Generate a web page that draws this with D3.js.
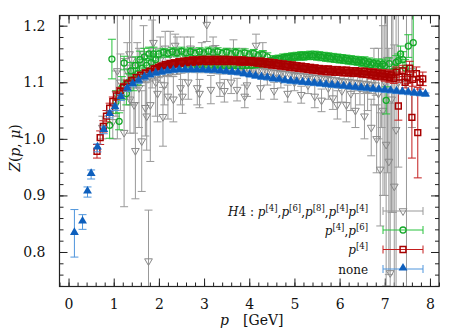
<!DOCTYPE html>
<html>
<head>
<meta charset="utf-8">
<script src="https://cdn.jsdelivr.net/npm/d3@7"></script>
<style>
  body { margin: 0; background: #fff; }
  svg text { fill: #111; }
</style>
</head>
<body>
<div id="chart"></div>
<script>
// [p, Z, error]
const h4Data = [
  [0.75,1.020,0.020],[0.98,1.030,0.030],[1.05,1.080,0.040],[1.08,1.120,0.120],[1.15,1.100,0.050],
  [1.23,1.011,0.131],[1.30,1.120,0.050],[1.35,1.150,0.090],[1.36,1.070,0.060],[1.40,1.140,0.080],
  [1.45,1.060,0.050],[1.48,0.979,0.085],[1.52,1.130,0.040],[1.56,1.090,0.070],[1.62,0.996,0.089],
  [1.66,1.150,0.050],[1.70,1.055,0.050],[1.73,1.040,0.060],[1.77,0.784,0.090],[1.81,1.060,0.100],
  [1.85,1.150,0.060],[1.88,1.170,0.050],[1.93,1.100,0.060],[1.97,1.080,0.050],[2.03,1.140,0.040],
  [2.09,1.039,0.052],[2.12,1.095,0.035],[2.14,1.160,0.030],[2.20,1.075,0.040],[2.25,1.150,0.040],
  [2.32,1.070,0.040],[2.36,1.165,0.020],[2.40,1.155,0.025],[2.48,1.090,0.030],[2.52,1.075,0.030],
  [2.56,1.150,0.030],[2.65,1.100,0.030],[2.70,1.160,0.020],[2.75,1.140,0.020],[2.85,1.090,0.030],
  [2.90,1.080,0.025],[2.95,1.150,0.020],[3.06,1.202,0.030],[3.15,1.087,0.025],[3.20,1.160,0.020],
  [3.25,1.145,0.020],[3.35,1.095,0.020],[3.45,1.085,0.020],[3.50,1.140,0.020],[3.60,1.100,0.020],
  [3.65,1.155,0.020],[3.73,1.087,0.020],[3.85,1.140,0.020],[3.90,1.075,0.020],[3.95,1.095,0.020],
  [4.05,1.135,0.015],[4.15,1.165,0.020],[4.25,1.090,0.020],[4.30,1.150,0.020],[4.40,1.110,0.015],
  [4.55,1.085,0.015],[4.70,1.105,0.015],[4.85,1.080,0.015],[5.00,1.100,0.015],[5.15,1.078,0.015],
  [5.30,1.095,0.015],[5.45,1.075,0.020],[5.60,1.068,0.020],[5.75,1.090,0.020],[5.85,1.072,0.020],
  [5.95,1.060,0.025],[6.05,1.085,0.020],[6.15,1.060,0.030],[6.25,1.080,0.030],[6.35,1.050,0.030],
  [6.45,1.090,0.030],[6.55,1.040,0.040],[6.62,1.090,0.040],[6.70,1.020,0.050],[6.76,1.110,0.050],
  [6.82,1.000,0.060],[6.86,1.080,0.080],[6.90,0.946,0.100],[6.93,1.120,0.100],[6.96,1.050,0.150],
  [7.00,1.100,0.200],[7.03,0.990,0.250],[7.06,1.140,0.200],[7.09,0.960,0.200],[7.12,0.763,0.300],
  [7.15,1.070,0.200],[7.18,1.120,0.250],[7.21,0.916,0.250],[7.25,1.016,0.300],[7.30,1.100,0.150],
  [7.48,1.100,0.400],[7.60,1.120,0.100],
  [1.50,1.100,0.010],[1.60,1.104,0.010],[1.70,1.108,0.009],[1.80,1.111,0.009],[1.90,1.114,0.008],
  [2.00,1.116,0.008],[2.10,1.118,0.008],[2.20,1.120,0.008],[2.30,1.121,0.008],[2.40,1.122,0.008],
  [2.50,1.124,0.008],[2.60,1.125,0.008],[2.70,1.126,0.008],[2.80,1.126,0.009],[2.90,1.126,0.009],
  [3.00,1.126,0.009],[3.10,1.126,0.009],[3.20,1.126,0.010],[3.30,1.125,0.010],[3.40,1.125,0.010],
  [3.50,1.125,0.010],[3.60,1.124,0.010],[3.70,1.124,0.010],[3.80,1.123,0.010],[3.90,1.123,0.011],
  [4.00,1.122,0.011],[4.10,1.121,0.011],[4.20,1.121,0.011],[4.30,1.120,0.011],[4.40,1.119,0.011],
  [4.50,1.118,0.011],[4.60,1.117,0.011],[4.70,1.116,0.011],[4.80,1.115,0.011],[4.90,1.114,0.011],
  [5.00,1.113,0.011],[5.10,1.112,0.011],[5.20,1.111,0.012],[5.30,1.110,0.012],[5.40,1.109,0.012],
  [5.50,1.108,0.012],[5.60,1.107,0.012],[5.70,1.106,0.012],[5.80,1.105,0.012],[5.90,1.104,0.012],
  [6.00,1.103,0.013],[6.10,1.102,0.013],[6.20,1.101,0.013],[6.30,1.100,0.013],[6.40,1.099,0.014],
  [6.50,1.098,0.014],[6.60,1.097,0.015],[6.70,1.096,0.016],[6.80,1.095,0.018]
];

const p4p6Data = [
  [0.91,1.024,0.023],[0.96,1.141,0.035],[1.05,1.065,0.020],[1.12,1.031,0.015],[1.18,1.090,0.020],
  [1.23,1.134,0.012],[1.28,1.080,0.020],[1.33,1.100,0.015],[1.38,1.120,0.015],[1.43,1.105,0.020],
  [1.48,1.130,0.015],[1.53,1.115,0.020],[1.58,1.140,0.015],[1.63,1.125,0.015],[1.68,1.145,0.015],
  [1.73,1.130,0.012],[1.78,1.150,0.012],[1.83,1.135,0.012],[1.88,1.150,0.012],[1.93,1.140,0.010],
  [2.00,1.150,0.007],[2.10,1.153,0.007],[2.20,1.151,0.007],[2.30,1.154,0.007],[2.40,1.152,0.007],
  [2.50,1.155,0.007],[2.60,1.152,0.007],[2.70,1.154,0.007],[2.80,1.151,0.007],[2.90,1.154,0.007],
  [3.00,1.152,0.007],[3.10,1.155,0.007],[3.20,1.152,0.007],[3.30,1.154,0.007],[3.40,1.151,0.007],
  [3.50,1.153,0.007],[3.60,1.150,0.007],[3.70,1.153,0.007],[3.80,1.150,0.007],[3.90,1.152,0.007],
  [4.00,1.149,0.007],[4.10,1.151,0.007],[4.20,1.147,0.007],[4.30,1.149,0.007],[4.40,1.145,0.007],
  [2.55,1.127,0.005],[2.65,1.128,0.005],[2.75,1.129,0.005],[2.85,1.129,0.005],[2.95,1.130,0.005],
  [3.05,1.130,0.005],[3.15,1.130,0.005],[3.25,1.130,0.005],[3.35,1.130,0.005],[3.45,1.130,0.005],
  [3.55,1.130,0.005],[3.65,1.130,0.005],[3.75,1.129,0.005],[3.85,1.129,0.005],[3.95,1.130,0.005],
  [4.05,1.130,0.005],[4.15,1.131,0.005],[4.25,1.132,0.005],[4.35,1.134,0.005],[4.45,1.136,0.005],
  [4.50,1.138,0.006],[4.55,1.141,0.006],[4.60,1.139,0.006],[4.65,1.142,0.006],[4.70,1.141,0.006],
  [4.75,1.144,0.006],[4.80,1.142,0.006],[4.85,1.145,0.006],[4.90,1.143,0.006],[4.95,1.146,0.006],
  [5.00,1.144,0.006],[5.05,1.147,0.006],[5.10,1.145,0.006],[5.15,1.148,0.006],[5.20,1.145,0.006],
  [5.25,1.148,0.006],[5.30,1.146,0.006],[5.35,1.149,0.006],[5.40,1.146,0.006],[5.45,1.149,0.006],
  [5.50,1.145,0.006],[5.55,1.148,0.006],[5.60,1.144,0.006],[5.65,1.147,0.006],[5.70,1.143,0.006],
  [5.75,1.146,0.006],[5.80,1.142,0.006],[5.85,1.145,0.006],[5.90,1.141,0.006],[5.95,1.144,0.006],
  [6.00,1.140,0.006],[6.05,1.143,0.006],[6.10,1.139,0.006],[6.15,1.142,0.006],[6.20,1.138,0.006],
  [6.25,1.141,0.006],[6.30,1.137,0.006],[6.35,1.140,0.006],[6.40,1.136,0.006],[6.45,1.139,0.006],
  [6.50,1.135,0.007],[6.55,1.138,0.007],[6.60,1.133,0.007],[6.65,1.136,0.007],[6.70,1.131,0.007],
  [6.75,1.134,0.007],[6.80,1.129,0.008],[6.85,1.133,0.008],[6.90,1.128,0.008],[6.95,1.132,0.009],
  [7.00,1.129,0.010],[7.03,1.068,0.024],[7.10,1.133,0.010],[7.20,1.120,0.012],[7.25,1.135,0.012],
  [7.30,1.138,0.012],[7.35,1.150,0.014],[7.40,1.140,0.014],[7.45,1.125,0.015],[7.52,1.164,0.020],
  [7.63,1.170,0.060]
];

const p4Data = [
  [0.63,0.978,0.012],[0.70,1.002,0.012],[0.77,1.022,0.010],[0.84,1.040,0.010],[0.91,1.054,0.009],
  [0.98,1.066,0.008],[1.06,1.076,0.008],[1.14,1.084,0.007],[1.22,1.091,0.007],[1.30,1.097,0.007],
  [1.40,1.103,0.006],[1.50,1.108,0.006],[1.60,1.112,0.006],[1.70,1.116,0.006],[1.80,1.119,0.006],
  [1.90,1.123,0.006],[1.95,1.124,0.006],
  [2.00,1.126,0.006],[2.05,1.128,0.006],[2.10,1.128,0.006],[2.15,1.131,0.006],[2.20,1.130,0.006],
  [2.25,1.133,0.006],[2.30,1.132,0.006],[2.35,1.134,0.006],[2.40,1.133,0.006],[2.45,1.136,0.006],
  [2.50,1.134,0.006],[2.55,1.137,0.006],[2.60,1.135,0.006],[2.65,1.138,0.006],[2.70,1.136,0.006],
  [2.75,1.139,0.006],[2.80,1.136,0.006],[2.85,1.139,0.006],[2.90,1.137,0.006],[2.95,1.140,0.006],
  [3.00,1.137,0.006],[3.05,1.140,0.006],[3.10,1.137,0.006],[3.15,1.140,0.006],[3.20,1.137,0.006],
  [3.25,1.140,0.006],[3.30,1.137,0.006],[3.35,1.140,0.006],[3.40,1.137,0.006],[3.45,1.140,0.006],
  [3.50,1.137,0.006],[3.55,1.140,0.006],[3.60,1.137,0.006],[3.65,1.139,0.006],[3.70,1.137,0.006],
  [3.75,1.139,0.006],[3.80,1.136,0.006],[3.85,1.139,0.006],[3.90,1.136,0.006],[3.95,1.138,0.006],
  [4.00,1.136,0.006],[4.05,1.138,0.006],[4.10,1.135,0.006],[4.15,1.137,0.006],[4.20,1.134,0.006],
  [4.25,1.137,0.006],[4.30,1.133,0.006],[4.35,1.136,0.006],[4.40,1.132,0.006],[4.45,1.135,0.006],
  [4.50,1.131,0.006],[4.55,1.134,0.006],[4.60,1.130,0.006],[4.65,1.133,0.006],[4.70,1.129,0.006],
  [4.75,1.132,0.006],[4.80,1.128,0.006],[4.85,1.131,0.006],[4.90,1.127,0.006],[4.95,1.130,0.006],
  [5.00,1.126,0.006],[5.05,1.129,0.006],[5.10,1.125,0.006],[5.15,1.128,0.006],[5.20,1.124,0.006],
  [5.25,1.127,0.006],[5.30,1.123,0.006],[5.35,1.126,0.006],[5.40,1.122,0.006],[5.45,1.125,0.006],
  [5.50,1.121,0.006],[5.55,1.124,0.006],[5.60,1.120,0.006],[5.65,1.123,0.006],[5.70,1.119,0.006],
  [5.75,1.123,0.006],[5.80,1.119,0.006],[5.85,1.122,0.006],[5.90,1.118,0.006],[5.95,1.122,0.006],
  [6.00,1.118,0.006],[6.05,1.121,0.006],[6.10,1.117,0.006],[6.15,1.121,0.006],[6.20,1.117,0.006],
  [6.25,1.120,0.006],[6.30,1.116,0.006],[6.35,1.120,0.006],[6.40,1.116,0.006],[6.45,1.119,0.006],
  [6.50,1.115,0.006],[6.55,1.119,0.006],[6.60,1.114,0.006],[6.65,1.118,0.006],[6.70,1.113,0.007],
  [6.75,1.117,0.007],[6.80,1.112,0.007],[6.85,1.116,0.007],[6.90,1.111,0.007],[6.95,1.115,0.007],
  [7.00,1.110,0.008],[7.05,1.114,0.008],[7.10,1.108,0.008],[7.15,1.113,0.008],[7.20,1.107,0.009],
  [7.25,1.118,0.009],[7.30,1.058,0.025],[7.32,1.109,0.009],[7.40,1.120,0.010],[7.45,1.100,0.010],
  [7.50,1.108,0.010],[7.55,1.125,0.012],[7.60,1.038,0.072],[7.62,1.105,0.012],[7.70,1.115,0.012],
  [7.73,1.011,0.080],[7.78,1.100,0.012],[7.84,1.106,0.012]
];

const noneData = [
  [0.13,0.833,0.042],[0.31,0.853,0.013],[0.42,0.906,0.009],[0.50,0.937,0.008],[0.64,0.984,0.007],
  [0.78,1.015,0.006],[0.91,1.043,0.006],[1.03,1.055,0.005],[1.16,1.073,0.005],[1.30,1.088,0.004],
  [1.42,1.096,0.004],[1.55,1.102,0.004],[1.68,1.108,0.004],[1.80,1.112,0.003],[1.93,1.115,0.003],
  [2.06,1.117,0.003],[2.19,1.119,0.003],[2.32,1.120,0.003],[2.45,1.121,0.003],[2.58,1.121,0.003],
  [2.71,1.121,0.003],[2.84,1.121,0.003],[2.97,1.121,0.003],[3.10,1.120,0.003],[3.23,1.120,0.003],
  [3.36,1.119,0.003],[3.49,1.118,0.003],[3.62,1.117,0.003],[3.75,1.116,0.003],[3.88,1.114,0.003],
  [4.01,1.112,0.003],[4.14,1.110,0.003],[4.27,1.108,0.003],[4.40,1.107,0.003],[4.53,1.105,0.003],
  [4.66,1.104,0.003],[4.79,1.102,0.003],[4.92,1.101,0.003],[5.05,1.100,0.003],[5.18,1.099,0.003],
  [5.31,1.098,0.003],[5.44,1.097,0.003],[5.57,1.096,0.003],[5.70,1.095,0.003],[5.83,1.094,0.003],
  [5.96,1.093,0.003],[6.09,1.092,0.003],[6.22,1.091,0.003],[6.35,1.090,0.003],[6.48,1.089,0.003],
  [6.61,1.088,0.003],[6.74,1.087,0.003],[6.87,1.086,0.003],[7.00,1.085,0.003],[7.13,1.084,0.003],
  [7.26,1.083,0.003],[7.39,1.082,0.003],[7.52,1.081,0.003],[7.65,1.080,0.003],[7.78,1.079,0.003],
  [7.90,1.078,0.003]
];

const xTicks = [0, 1, 2, 3, 4, 5, 6, 7, 8];
const yTicks = [0.8, 0.9, 1.0, 1.1, 1.2];

const FONT = "DejaVu Serif";
var W = 463, H = 333;
var margin = { top: 15.5, right: 24, bottom: 46.5, left: 59.5 },
    width  = W - margin.left - margin.right,
    height = H - margin.top  - margin.bottom;

var svg = d3.select("#chart").append("svg")
            .attr("width", W).attr("height", H)
            .attr("font-family", FONT);
var g = svg.append("g").attr("transform", `translate(${margin.left},${margin.top})`);

var x = d3.scaleLinear().domain([-0.2, 8.2]).range([0, width]);
var y = d3.scaleLinear().domain([0.739, 1.218]).range([height, 0]);

svg.append("defs").append("clipPath").attr("id", "clip")
   .append("rect").attr("width", width).attr("height", height);

// ticks, inward on all four sides
var xMinor = d3.range(-0.2, 8.21, 0.2).map(v => +v.toFixed(2));
var yMinor = d3.range(0.74, 1.2185, 0.02).map(v => +v.toFixed(2));

function axisG(axis, tr) {
  var a = g.append("g").attr("transform", tr).call(axis);
  a.attr("font-family", FONT);
  a.select(".domain").remove();
  a.selectAll("line").attr("stroke", "#222");
  return a;
}
axisG(d3.axisBottom(x).tickValues(xMinor).tickSize(-4).tickFormat(""), `translate(0,${height})`);
axisG(d3.axisTop(x).tickValues(xMinor).tickSize(-4).tickFormat(""), "translate(0,0)");
axisG(d3.axisLeft(y).tickValues(yMinor).tickSize(-4).tickFormat(""), "translate(0,0)");
axisG(d3.axisRight(y).tickValues(yMinor).tickSize(-4).tickFormat(""), `translate(${width},0)`);
axisG(d3.axisTop(x).tickValues(xTicks).tickSize(-8).tickFormat(""), "translate(0,0)");
axisG(d3.axisRight(y).tickValues(yTicks).tickSize(-8).tickFormat(""), `translate(${width},0)`);

var xAx = axisG(d3.axisBottom(x).tickValues(xTicks).tickSize(-8).tickPadding(13).tickFormat(d3.format("d")),
                `translate(0,${height})`);
xAx.selectAll("text").attr("font-size", 14).attr("fill", "#111").attr("font-family", FONT);
var yAx = axisG(d3.axisLeft(y).tickValues(yTicks).tickSize(-8).tickPadding(14).tickFormat(d3.format(".1f")),
                "translate(0,0)");
yAx.selectAll("text").attr("font-size", 14).attr("fill", "#111").attr("font-family", FONT);

// series
var plot = g.append("g").attr("clip-path", "url(#clip)");

function drawSeries(data, barColor, cap, marker) {
  var s = plot.append("g");
  var bars = s.selectAll(".eb").data(data).enter().append("g")
              .attr("stroke", barColor).attr("stroke-width", 1).attr("fill", "none");
  bars.append("line")
      .attr("x1", d => x(d[0])).attr("x2", d => x(d[0]))
      .attr("y1", d => y(d[1] - d[2])).attr("y2", d => y(d[1] + d[2]));
  [-1, 1].forEach(sg => {
    bars.append("line")
        .attr("x1", d => x(d[0]) - cap / 2).attr("x2", d => x(d[0]) + cap / 2)
        .attr("y1", d => y(d[1] + sg * d[2])).attr("y2", d => y(d[1] + sg * d[2]));
  });
  var m = s.selectAll(".mk").data(data).enter().append("g")
           .attr("transform", d => `translate(${x(d[0])},${y(d[1])})`);
  marker(m);
}

var triDown = d3.symbol(d3.symbolTriangle, 26)();
var triUp = d3.symbol(d3.symbolTriangle, 34)();
var square = d3.symbol(d3.symbolSquare, 34)();

function grayMark(sel) {
  sel.append("path").attr("d", triDown).attr("transform", "rotate(180)")
     .attr("fill", "none").attr("stroke", "#888").attr("stroke-width", 1);
}
function greenMark(sel) {
  sel.append("circle").attr("r", 3).attr("fill", "none").attr("stroke", "#14a828").attr("stroke-width", 1.3);
}
function redMark(sel) {
  sel.append("path").attr("d", square).attr("fill", "none").attr("stroke", "#a80000").attr("stroke-width", 1.5);
}
function blueMark(sel) {
  sel.append("path").attr("d", triUp).attr("transform", "translate(0,-1)").attr("fill", "#0d5fbd");
}

drawSeries(h4Data, "#999", 8, grayMark);
drawSeries(p4p6Data, "#28c23c", 8, greenMark);
drawSeries(p4Data, "#c41e1e", 8, redMark);
drawSeries(noneData, "#4f95dc", 8, blueMark);

// frame
g.append("rect").attr("width", width).attr("height", height)
 .attr("fill", "none").attr("stroke", "#222").attr("stroke-width", 1.2);

// legend
var legend = [
  { key: "h4",  bar: "#999", mark: grayMark },
  { key: "p46", bar: "#28c23c", mark: greenMark },
  { key: "p4",  bar: "#c41e1e", mark: redMark },
  { key: "none", bar: "#4f95dc", mark: blueMark }
];
var legY = [211, 230, 249.5, 269];
var lg = svg.append("g");
legend.forEach((L, i) => {
  var row = lg.append("g").attr("transform", `translate(0,${legY[i]})`);
  row.append("line").attr("x1", 383).attr("x2", 423).attr("stroke", L.bar);
  row.append("line").attr("x1", 383).attr("x2", 383).attr("y1", -4).attr("y2", 4).attr("stroke", L.bar);
  row.append("line").attr("x1", 423).attr("x2", 423).attr("y1", -4).attr("y2", 4).attr("stroke", L.bar);
  L.mark(row.append("g").attr("transform", "translate(403,0)"));
  var t = row.append("text").attr("x", 368).attr("y", 4.5).attr("text-anchor", "end")
             .attr("font-size", 12).attr("font-family", FONT);
  function sup(s) { t.append("tspan").attr("dy", -5).attr("font-size", 8.5).text(s); }
  function base(s, it) { var ts = t.append("tspan").attr("dy", 5).text(s); if (it) ts.attr("font-style", "italic"); }
  function txt(s, it) { var ts = t.append("tspan").text(s); if (it) ts.attr("font-style", "italic"); }
  if (L.key === "h4") {
    txt("H", true); txt("4 : ");
    txt("p", true); sup("[4]"); base(","); txt("p", true);
    sup("[6]"); base(","); txt("p", true);
    sup("[8]"); base(","); txt("p", true);
    sup("[4]"); base("p", true); sup("[4]"); base("");
  } else if (L.key === "p46") {
    txt("p", true); sup("[4]"); base(","); txt("p", true); sup("[6]"); base("");
  } else if (L.key === "p4") {
    txt("p", true); sup("[4]"); base("");
  } else {
    txt("none");
  }
});

// axis titles
var xl = svg.append("text").attr("x", 220).attr("y", 325).attr("font-size", 14).attr("font-family", FONT);
xl.append("tspan").attr("font-style", "italic").text("p");
xl.append("tspan").attr("x", 243).text("[GeV]");

var yl = svg.append("text").attr("transform", "translate(20,148) rotate(-90)")
            .attr("text-anchor", "middle").attr("font-size", 14).attr("font-family", FONT);
yl.append("tspan").attr("font-style", "italic").text("Z");
yl.append("tspan").text("(");
yl.append("tspan").attr("font-style", "italic").text("p");
yl.append("tspan").text(", ");
yl.append("tspan").attr("font-style", "italic").text("μ");
yl.append("tspan").text(")");
</script>
</body>
</html>
